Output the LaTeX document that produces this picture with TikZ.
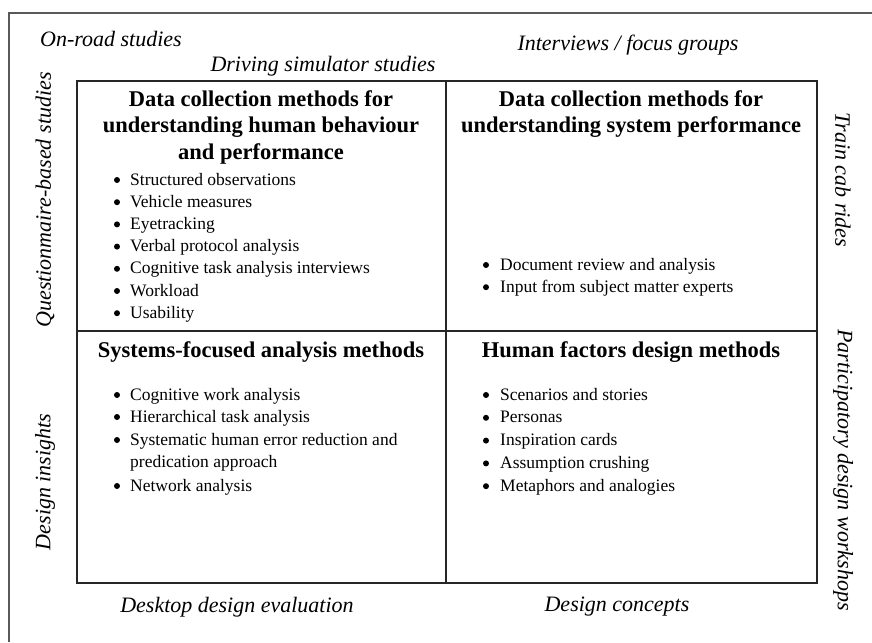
\documentclass[tikz,border=0pt]{standalone}
\usepackage{fontspec}
\setmainfont{Liberation Serif}
\begin{document}
\begin{tikzpicture}[x=1pt,y=-1pt,
  lab/.style={font=\fontsize{22}{26}\selectfont\itshape, inner sep=0pt},
  head/.style={font=\fontsize{22.5}{26.5}\selectfont\bfseries, align=center, inner sep=0pt},
  item/.style={font=\fontsize{17.5}{22}\selectfont, anchor=base west, inner sep=0pt},
  dot/.style={circle, fill=black, inner sep=0pt, minimum size=6pt},
  gridline/.style={line width=1.5pt, draw=black!85},
  frameline/.style={line width=2pt, draw=black!65}]
\useasboundingbox (0,0) rectangle (872,642);
% outer frame (only top and left visible)
\coordinate (fbl) at (9,642);
\coordinate (ftl) at (9,13);
\coordinate (ftr) at (872,13);
\draw[frameline] (fbl) -- (ftl) -- (ftr);
% grid
\coordinate (g1) at (77,81);
\coordinate (g2) at (817,583);
\coordinate (mt) at (446,81);
\coordinate (mb) at (446,583);
\coordinate (ml) at (77,331);
\coordinate (mr) at (817,331);
\draw[gridline] (g1) rectangle (g2);
\draw[gridline] (mt) -- (mb);
\draw[gridline] (ml) -- (mr);
% headings
\node[head] (h1) at (261,127) {Data collection methods for\\understanding human behaviour\\and performance};
\node[head] (h2) at (631,114) {Data collection methods for\\understanding system performance};
\node[head] (h3) at (261,352) {Systems-focused analysis methods};
\node[head] (h4) at (631,352) {Human factors design methods};
% top-left items
\foreach \t [count=\i from 0] in {Structured observations, Vehicle measures, Eyetracking, Verbal protocol analysis, Cognitive task analysis interviews, Workload, Usability}{
  \node[item] (tl\i) at (130,{185+22.2*\i}) {\t};
  \node[dot] (tld\i) at (117,{180+22.2*\i}) {};
}
% top-right items
\foreach \t [count=\i from 0] in {Document review and analysis, Input from subject matter experts}{
  \node[item] (tr\i) at (500,{270+22.2*\i}) {\t};
  \node[dot] (trd\i) at (486,{265+22.2*\i}) {};
}
% bottom-left items
\node[item] (bl0) at (130,400) {Cognitive work analysis};
\node[dot] (bld0) at (117,395) {};
\node[item] (bl1) at (130,422) {Hierarchical task analysis};
\node[dot] (bld1) at (117,417) {};
\node[item] (bl2) at (130,445) {Systematic human error reduction and};
\node[dot] (bld2) at (117,440) {};
\node[item] (bl2b) at (130,467) {predication approach};
\node[item] (bl3) at (130,491) {Network analysis};
\node[dot] (bld3) at (117,486) {};
% bottom-right items
\foreach \t [count=\i from 0] in {Scenarios and stories, Personas, Inspiration cards, Assumption crushing, Metaphors and analogies}{
  \node[item] (br\i) at (500,{400+22.8*\i}) {\t};
  \node[dot] (brd\i) at (486,{395+22.8*\i}) {};
}
% surrounding labels
\node[lab, anchor=west] (onroad) at (40,39) {On-road studies};
\node[lab] (sim) at (323,66) {Driving simulator studies};
\node[lab] (interv) at (628,45) {Interviews / focus groups};
\node[lab, rotate=90] (quest) at (45,200) {Questionmaire-based studies};
\node[lab, rotate=90] (insight) at (45,482) {Design insights};
\node[lab, rotate=-90] (train) at (843,180) {Train cab rides};
\node[lab, rotate=-90] (partic) at (843,470) {Participatory design workshops};
\node[lab] (desktop) at (237,607) {Desktop design evaluation};
\node[lab] (concepts) at (617,607) {Design concepts};
\end{tikzpicture}
\end{document}
